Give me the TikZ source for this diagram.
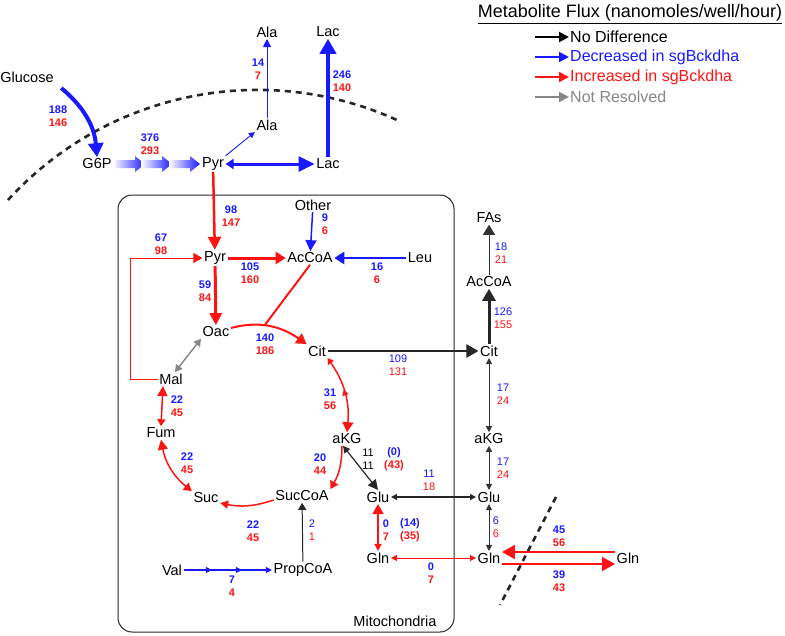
\documentclass[tikz,border=0pt]{standalone}
\usepackage{fontspec}
\setmainfont{Liberation Sans}
\usepackage{xcolor}
\usepackage{tikz}
\usetikzlibrary{arrows.meta,calc,decorations.markings}
\definecolor{fblue}{RGB}{25,25,255}
\definecolor{fred}{RGB}{255,20,20}
\definecolor{fgray}{RGB}{135,135,135}
\newcommand{\fluxpair}[2]{\textcolor{fblue}{#1}\\\textcolor{fred}{#2}}
\tikzset{
  met/.style={font=\fontsize{14.5}{16}\selectfont, inner sep=1.5pt},
  flx/.style={font=\fontsize{11}{13}\selectfont\bfseries, align=center, inner sep=0pt},
  flxn/.style={font=\fontsize{11}{13}\selectfont, align=center, inner sep=0pt},
  legtxt/.style={font=\fontsize{16}{18}\selectfont, anchor=west, inner sep=1pt},
  membrane/.style={line width=2.6pt, black!85, dash pattern=on 6pt off 5pt},
  tipsm/.style={-{Triangle[length=6pt,width=6pt]}},
  dblsm/.style={{Triangle[length=6pt,width=6pt]}-{Triangle[length=6pt,width=6pt]}}
}

\begin{document}
\begin{tikzpicture}[x=1pt,y=1pt]
\useasboundingbox (0,0) rectangle (785,-635);

\node[font=\fontsize{18}{20}\selectfont] (title) at (630,-14) {\underline{Metabolite Flux (nanomoles/well/hour)}};
\foreach \c/\t [count=\i] in {black/No Difference, fblue/Decreased in sgBckdha, fred/Increased in sgBckdha, fgray/Not Resolved}{
  \node[legtxt, text=\c] (leg\i) at (569,-17-20*\i) {\t};
  \coordinate (legs\i) at (535,-17-20*\i);
  \draw[\c, line width=2pt, -{Triangle[length=10pt,width=10pt]}] (legs\i) -- (leg\i.west);
}

\draw[membrane] (8,-200) arc[start angle=137.6, end angle=65.7, radius=338];
\draw[membrane] (556,-497) -- (500,-605);
\draw[black!85, line width=1pt, rounded corners=14pt] (118,-195) rectangle (454,-632);
\node[met] (mitolab) at (395,-621) {Mitochondria};

\node[met] (glc) at (27,-77) {Glucose};
\node[met] (g6p) at (97,-164) {G6P};
\node[met] (pyrc) at (213,-164) {Pyr};
\node[met] (alac) at (267,-125) {Ala};
\node[met] (alao) at (267,-32) {Ala};
\node[met] (laco) at (328,-32) {Lac};
\node[met] (lacc) at (328,-164) {Lac};

\node[met] (pyrm) at (215,-258) {Pyr};
\node[met] (other) at (313,-205) {Other};
\node[met] (accm) at (310,-258) {AcCoA};
\node[met] (leu) at (420,-258) {Leu};
\node[met] (oac) at (216,-332) {Oac};
\node[met] (citm) at (317,-351) {Cit};
\node[met] (mal) at (171,-379) {Mal};
\node[met] (fum) at (161,-433) {Fum};
\node[met] (akgm) at (347,-439) {aKG};
\node[met] (suc) at (206,-498) {Suc};
\node[met] (succoa) at (302,-496) {SucCoA};
\node[met] (glum) at (378,-497) {Glu};
\node[met] (glnm) at (378,-558) {Gln};
\node[met] (val) at (172,-570) {Val};
\node[met] (propcoa) at (303,-570) {PropCoA};

\node[met] (fas) at (489,-218) {FAs};
\node[met] (acco) at (489,-282) {AcCoA};
\node[met] (cito) at (489,-351) {Cit};
\node[met] (akgo) at (489,-439) {aKG};
\node[met] (gluo) at (489,-497) {Glu};
\node[met] (glno) at (489,-558) {Gln};
\node[met] (glnx) at (628,-558) {Gln};

\draw[fblue, line width=4pt, -{Triangle[length=14pt,width=15pt]}] ([xshift=6pt,yshift=-4pt]glc.south east) to[out=-40,in=95] (g6p.north);
\foreach \xa/\xb in {113/145,141/172,169/200}
  \shade[left color=white, middle color=fblue, right color=fblue] (\xa,-160) -- (\xb-10,-160) -- (\xb-10,-156) -- (\xb,-164) -- (\xb-10,-172) -- (\xb-10,-168) -- (\xa,-168) -- cycle;
\draw[fblue, line width=0.9pt, tipsm] (pyrc.north east) -- (alac.south west);
\draw[fblue, line width=3pt, {Triangle[length=8pt,width=10pt]}-{Triangle[length=16pt,width=15pt]}] (pyrc) -- (lacc);
\draw[fblue, line width=0.9pt, -{Triangle[length=8pt,width=8pt]}] (alac) -- (alao);
\draw[fblue, line width=4pt, -{Triangle[length=15pt,width=16pt]}] (lacc) -- (laco);
\draw[fred, line width=2.5pt, -{Triangle[length=13pt,width=13pt]}] (pyrc) -- (pyrm);

\draw[fblue, line width=1.5pt, -{Triangle[length=11pt,width=11pt]}] (other) -- (accm);
\draw[fblue, line width=2.5pt, -{Triangle[length=10pt,width=12pt]}] (leu) -- (accm);
\draw[fred, line width=3pt, -{Triangle[length=10pt,width=12pt]}] (pyrm) -- (accm);
\draw[fred, line width=0.9pt, -{Triangle[length=9pt,width=10pt]}] (mal.west) -- ++(-27,0) |- (pyrm.west);
\draw[fred, line width=3pt, -{Triangle[length=12pt,width=12pt]}] (pyrm) -- (oac);
\draw[fred, line width=2pt, -{Triangle[length=10pt,width=12pt]}] ([yshift=4pt]oac.east) to[out=15,in=145] coordinate[pos=0.42] (oacj) (citm.north west);
\draw[fred, line width=2pt] (accm.south) -- (oacj);
\draw[black!85, line width=2.5pt, -{Triangle[length=12pt,width=13pt]}] (citm) -- (cito);
\draw[fgray, line width=1.5pt, {Triangle[length=7pt,width=8pt]}-{Triangle[length=7pt,width=8pt]}] (oac.south west) -- ([xshift=4pt]mal.north);
\draw[fred, line width=1.5pt, {Triangle[length=10pt,width=10pt]}-{Triangle[length=7pt,width=8pt]}] ([xshift=-8pt]mal.south) -- (fum.north);
\draw[fred, line width=1.5pt, {Triangle[length=10pt,width=10pt]}-{Triangle[length=8pt,width=9pt]}] (fum.south) to[bend right=20] (suc.north west);
\draw[fred, line width=1.5pt, -{Triangle[length=8pt,width=8pt]}] ([yshift=-4pt]succoa.west) to[bend left=15] ([yshift=-5pt]suc.east);
\draw[fred, line width=1.5pt, -{Triangle[length=8pt,width=9pt]}] ([xshift=-5pt]akgm.south) to[bend left=15] (succoa.north east);
\draw[fred, line width=1.5pt, {Triangle[length=6pt,width=7pt]}-{Triangle[length=10pt,width=11pt]},
  postaction={decorate, decoration={markings, mark=at position 0.45 with {\arrowreversed{Triangle[length=6pt,width=6pt]}}}}]
  (citm.south east) to[bend left=20] (akgm.north);
\draw[black!85, line width=1.2pt, {Triangle[length=7pt,width=7pt]}-{Triangle[length=10pt,width=10pt]}] ([xshift=-4pt]akgm.south) -- (glum.north);
\draw[black!85, line width=1.2pt, dblsm] (gluo) -- (glum);
\draw[black!85, line width=1pt, -{Triangle[length=7pt,width=8pt]}] (propcoa) -- (succoa);
\draw[fblue, line width=1.2pt, tipsm,
  postaction={decorate, decoration={markings,
    mark=at position 0.32 with {\arrow{Triangle[length=6pt,width=6pt]}},
    mark=at position 0.66 with {\arrow{Triangle[length=6pt,width=6pt]}}}}] (val) -- (propcoa);
\draw[fred, line width=1.5pt, {Triangle[length=7pt,width=7pt]}-{Triangle[length=10pt,width=11pt]}] (glnm) -- (glum);
\draw[fred, line width=1pt, dblsm] (glno) -- (glnm);

\draw[black!80, line width=1pt, -{Triangle[length=10pt,width=12pt]}] (acco) -- (fas);
\draw[black!85, line width=3pt, -{Triangle[length=12pt,width=13pt]}] (cito) -- (acco);
\draw[black!80, line width=1pt, dblsm] (cito) -- (akgo);
\draw[black!80, line width=1pt, dblsm] (akgo) -- (gluo);
\draw[black!80, line width=1pt, dblsm] (gluo) -- (glno);
\draw[fred, line width=2pt, -{Triangle[length=13pt,width=14pt]}] ([yshift=6pt]glnx.west) -- ([yshift=6pt]glno.east);
\draw[fred, line width=2pt, -{Triangle[length=13pt,width=14pt]}] ([yshift=-6pt]glno.east) -- ([yshift=-6pt]glnx.west);

\node[flx] (fglc) at (58,-116) {\fluxpair{188}{146}};
\node[flx] (fg6p) at (150,-144) {\fluxpair{376}{293}};
\node[flx] (fala) at (258,-69) {\fluxpair{14}{7}};
\node[flx] (flac) at (342,-81) {\fluxpair{246}{140}};
\node[flx] (fpyr) at (231,-216) {\fluxpair{98}{147}};
\node[flx] (foth) at (325,-224) {\fluxpair{9}{6}};
\node[flx] (fleu) at (377,-273) {\fluxpair{16}{6}};
\node[flx] (fpdh) at (250,-273) {\fluxpair{105}{160}};
\node[flx] (fme) at (161,-244) {\fluxpair{67}{98}};
\node[flx] (fpc) at (205,-291) {\fluxpair{59}{84}};
\node[flx] (fcs) at (265,-344) {\fluxpair{140}{186}};
\node[flxn] (fcit) at (398,-365) {\fluxpair{109}{131}};
\node[flx] (fidh) at (330,-399) {\fluxpair{31}{56}};
\node[flx] (ffum) at (177,-406) {\fluxpair{22}{45}};
\node[flx] (fsdh) at (187,-463) {\fluxpair{22}{45}};
\node[flx] (fogdh) at (320,-464) {\fluxpair{20}{44}};
\node[flxn] (fgdh) at (368,-459) {11\\11};
\node[flx] (fgdhb) at (394,-459) {\fluxpair{(0)}{(43)}};
\node[flxn] (fglut) at (429,-480) {\fluxpair{11}{18}};
\node[flx] (fscs) at (253,-531) {\fluxpair{22}{45}};
\node[flxn] (fpcc) at (312,-530) {\fluxpair{2}{1}};
\node[flx] (fval) at (232,-586) {\fluxpair{7}{4}};
\node[flx] (fgls) at (386,-530) {\fluxpair{0}{7}};
\node[flx] (fglsb) at (410,-530) {\fluxpair{(14)}{(35)}};
\node[flx] (fglnt) at (431,-573) {\fluxpair{0}{7}};
\node[flxn] (ffas) at (501,-253) {\fluxpair{18}{21}};
\node[flxn] (facly) at (503,-318) {\fluxpair{126}{155}};
\node[flxn] (fidho) at (503,-394) {\fluxpair{17}{24}};
\node[flxn] (fakgo) at (503,-468) {\fluxpair{17}{24}};
\node[flxn] (fgluo) at (496,-527) {\fluxpair{6}{6}};
\node[flx] (fgln) at (559,-536) {\fluxpair{45}{56}};
\node[flx] (fglnx) at (559,-581) {\fluxpair{39}{43}};
\end{tikzpicture}
\end{document}
